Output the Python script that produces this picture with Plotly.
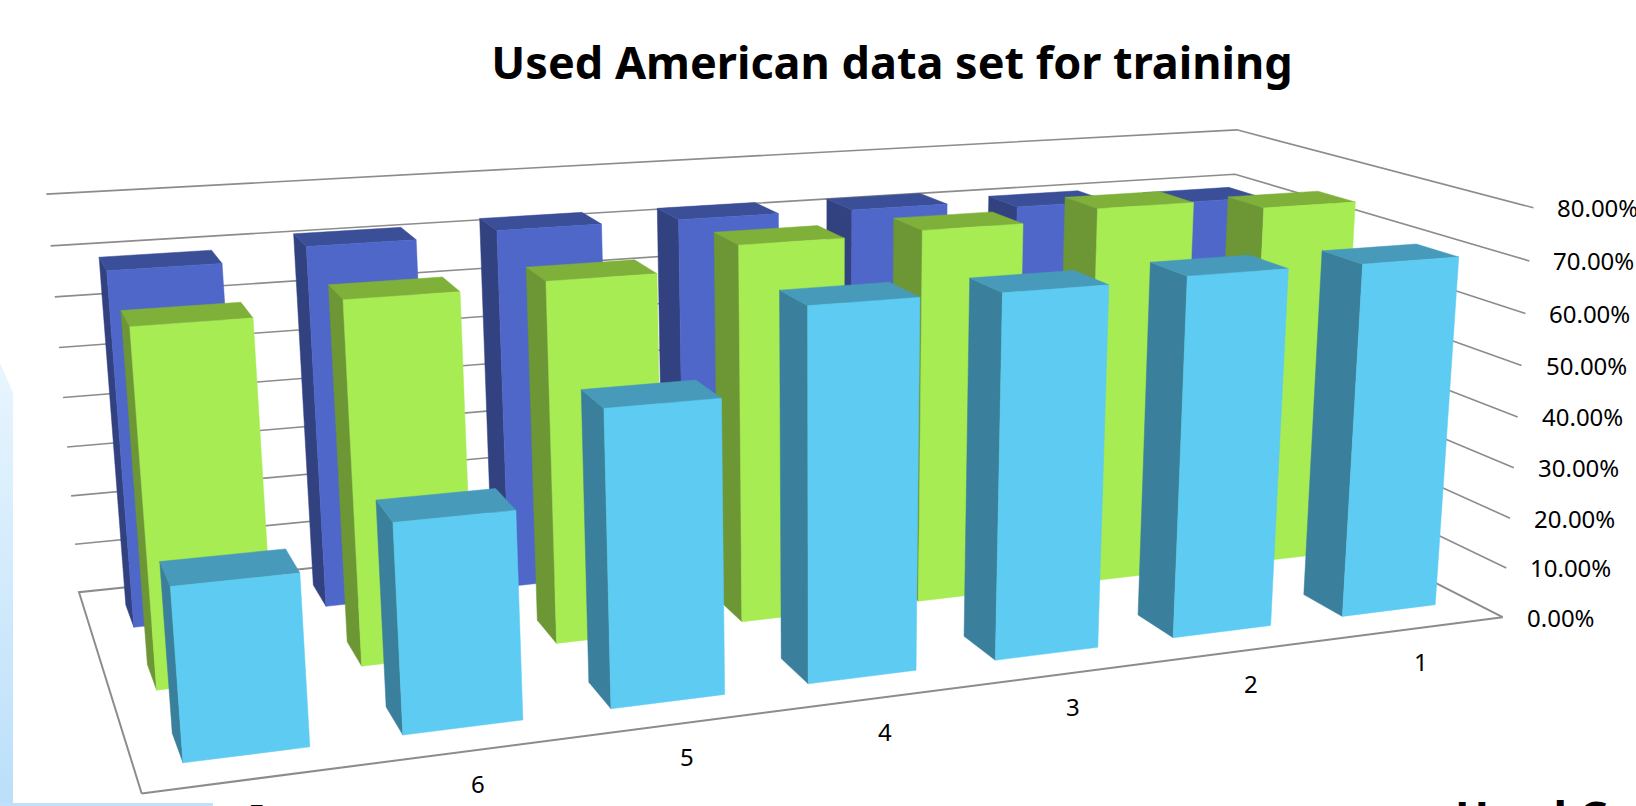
import numpy as np
import plotly.graph_objects as go

# Chart data: accuracy per experiment, one list per series (front row to back row)
categories = ["1", "2", "3", "4", "5", "6", "7"]
value_ticks = [0, 10, 20, 30, 40, 50, 60, 70, 80]
front_series = [69.3, 69.5, 69.0, 69.3, 54.2, 37.8, 30.7]
middle_series = [74.0, 76.0, 74.0, 73.5, 69.2, 68.4, 66.3]
back_series = [69.2, 70.5, 72.0, 72.2, 72.3, 71.5, 69.3]

WIDTH, HEIGHT = 1636, 806
N_CAT = len(categories)
N_ROW = 3
BAR_GAP = 0.215     # share of a category slot left empty on each side of a bar
ROW_FRONT = 0.30    # where a bar starts inside its row slot
ROW_BACK = 0.69     # where a bar ends inside its row slot

# Perspective camera for the 3-D box: (x along categories, y into depth, z value)
# paired with the spot where that box point lands on the page.
camera_pairs = [
    (0, 0, 0, 142, 792), (7, 0, 0, 1502, 619), (0, 3, 0, 79, 593), (7, 3, 0, 1222, 471),
    (7, 0, 80, 1533, 207), (7, 0, 70, 1530, 260), (7, 0, 60, 1525, 313), (7, 0, 50, 1522, 366),
    (7, 0, 40, 1517, 417), (7, 0, 10, 1507, 569), (0, 3, 80, 47, 193), (0, 3, 70, 50, 246),
    (0, 3, 40, 63, 398), (0, 3, 30, 67, 447), (0, 3, 10, 75, 545), (7, 3, 80, 1237, 131),
    (7, 3, 70, 1235, 175),
]


def solve_camera(pairs):
    rows, rhs = [], []
    for x, y, z, u, v in pairs:
        rows.append([x, y, z, 1, 0, 0, 0, 0, -u * x, -u * y, -u * z])
        rhs.append(u)
        rows.append([0, 0, 0, 0, x, y, z, 1, -v * x, -v * y, -v * z])
        rhs.append(v)
    p = np.linalg.lstsq(np.array(rows, float), np.array(rhs, float), rcond=None)[0]
    return np.append(p, 1.0).reshape(3, 4)


CAMERA = solve_camera(camera_pairs)


def project(points):
    pts = np.column_stack([np.asarray(points, float), np.ones(len(points))])
    out = pts @ CAMERA.T
    return out[:, 0] / out[:, 2], out[:, 1] / out[:, 2]


fig = go.Figure()


def add_polyline(points, color, width, name):
    u, v = project(points)
    fig.add_trace(go.Scatter(x=u, y=v, mode="lines", line=dict(color=color, width=width),
                             name=name, hoverinfo="skip", showlegend=False))


def add_face(points, color, name):
    u, v = project(points)
    fig.add_trace(go.Scatter(x=np.append(u, u[0]), y=np.append(v, v[0]), mode="lines",
                             fill="toself", fillcolor=color, line=dict(color=color, width=0.5),
                             name=name, hoverinfo="skip", showlegend=False))


# Page decoration along the left and bottom edges
for xs, ys, c0, c1 in [
    ([0, 13, 13, 0, 0], [363, 393, 806, 806, 363], "#E8F5FE", "#BBDFFA"),
    ([0, 213, 213, 0, 0], [803, 803, 806, 806, 803], "#BFE1FB", "#BFE1FB"),
]:
    fig.add_trace(go.Scatter(
        x=xs, y=ys, mode="lines", line=dict(width=0), fill="toself", hoverinfo="skip", showlegend=False,
        fillgradient=dict(type="vertical", colorscale=[[0, c1], [1, c0]])))

# Gridlines on the back and side walls, then the floor outline
GRID = "#8C8C8C"
for z in value_ticks[1:]:
    add_polyline([(0, N_ROW, z), (N_CAT, N_ROW, z), (N_CAT, 0, z)], GRID, 1.6, f"grid {z}")
add_polyline([(0, 0, 0), (N_CAT, 0, 0), (N_CAT, N_ROW, 0), (0, N_ROW, 0), (0, 0, 0)], GRID, 2.0, "floor")

ROWS = [
    (2, back_series, "#4E67C9", "#32417F", "#3A4F98", "Back"),
    (1, middle_series, "#A6EC52", "#6D9735", "#7FB03A", "Middle"),
    (0, front_series, "#5DCBF2", "#3A7F9C", "#479ABA", "Front"),
]

# Painter's order: far rows first, and from the right-hand category towards the left
for row, values, front, side, top, label in ROWS:
    for i, value in enumerate(values):
        x0 = N_CAT - 1 - i + BAR_GAP
        x1 = N_CAT - i - BAR_GAP
        y0 = row + ROW_FRONT
        y1 = row + ROW_BACK
        add_face([(x0, y0, 0), (x0, y1, 0), (x0, y1, value), (x0, y0, value)], side, f"{label} {categories[i]} side")
        add_face([(x0, y0, value), (x1, y0, value), (x1, y1, value), (x0, y1, value)], top, f"{label} {categories[i]} top")
        add_face([(x0, y0, 0), (x1, y0, 0), (x1, y0, value), (x0, y0, value)], front, f"{label} {categories[i]}")

annotations = []
TICK_FONT = dict(family="Noto Sans", size=24, color="#000000")

# Value labels beside the ends of the side-wall gridlines
for z in value_ticks:
    u, v = project([(N_CAT, 0, z)])
    annotations.append(dict(x=u[0], y=v[0], xref="x", yref="y", text=f"{z:.2f}%", showarrow=False,
                            xanchor="left", yanchor="middle", xshift=22, font=TICK_FONT))

# Category labels under the front floor edge
for i, name in enumerate(categories):
    u, v = project([(N_CAT - 0.5 - i, 0, 0)])
    annotations.append(dict(x=u[0], y=v[0], xref="x", yref="y", text=name, showarrow=False,
                            xanchor="center", yanchor="middle", yshift=-34, font=TICK_FONT))

# Heading of the neighbouring panel, cut by the page edge
annotations.append(dict(x=1453, y=784, xref="x", yref="y", text="<b>Used C</b>", showarrow=False,
                        xanchor="left", yanchor="top", font=dict(family="Noto Sans", size=45, color="#000000")))

fig.update_layout(
    width=WIDTH, height=HEIGHT,
    margin=dict(l=0, r=0, t=0, b=0),
    paper_bgcolor="#FFFFFF", plot_bgcolor="#FFFFFF",
    title=dict(text="<b>Used American data set for training</b>", x=892 / WIDTH, y=1 - 63 / HEIGHT,
               xanchor="center", yanchor="middle", font=dict(family="Noto Sans", size=45, color="#000000")),
    xaxis=dict(range=[0, WIDTH], visible=False, fixedrange=True),
    yaxis=dict(range=[HEIGHT, 0], visible=False, fixedrange=True),
    annotations=annotations,
    showlegend=False,
)
fig.write_html("out.html", config=dict(displayModeBar=False))
